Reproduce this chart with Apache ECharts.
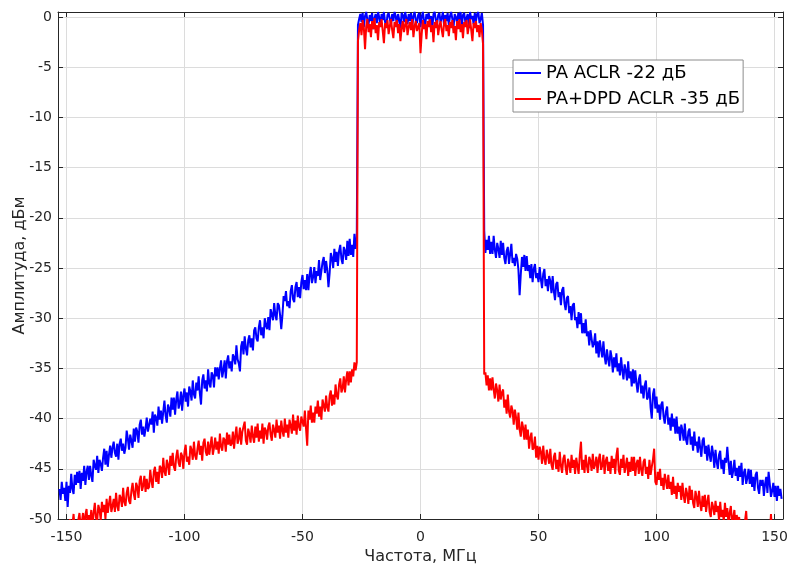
<!DOCTYPE html>
<html>
<head>
<meta charset="utf-8">
<script src="https://cdn.jsdelivr.net/npm/echarts@6/dist/echarts.min.js"></script>
<style>
html,body{margin:0;padding:0;background:#fff;overflow:hidden;}
#chart{width:789px;height:567px;}
</style>
</head>
<body>
<div id="chart"></div>
<script>
// Frequency grid (MHz): -153 ... 153, 0.5 MHz step
var freqStart = -153;
var freqStep = 0.5;

// PA (blue): left adjacent band (-153..-27), in-band (-26.5..26.5), right adjacent band (27..153)
var blueLeft = [
  -47.0, -48.1, -46.3, -47.5, -46.9, -48.2,
  -46.3, -48.8, -46.7, -47.4, -45.5, -47.0, -47.5, -45.6, -46.6, -45.3,
  -46.4, -45.2, -47.0, -45.4, -46.2, -44.7, -46.6, -45.3, -44.7, -46.1,
  -44.7, -45.7, -46.3, -44.1, -44.7, -45.1, -43.7, -45.4, -44.1, -44.5,
  -45.2, -43.9, -43.0, -44.6, -43.2, -44.8, -43.6, -42.7, -43.9, -42.9,
  -42.3, -43.4, -43.8, -42.5, -44.1, -42.5, -42.0, -43.2, -42.5, -43.5,
  -42.9, -41.2, -42.0, -43.1, -41.6, -42.2, -42.9, -41.0, -42.3, -40.9,
  -41.3, -42.4, -40.6, -40.1, -41.6, -40.8, -41.8, -41.0, -39.9, -41.3,
  -41.3, -40.0, -40.6, -39.3, -41.4, -39.6, -39.9, -40.7, -38.8, -40.1,
  -39.2, -40.5, -39.3, -38.2, -39.7, -40.4, -38.6, -39.0, -39.8, -37.9,
  -39.1, -37.9, -39.6, -38.1, -37.3, -39.0, -38.5, -37.3, -39.2, -37.7,
  -37.0, -38.3, -37.4, -38.8, -36.8, -37.3, -38.2, -36.2, -37.6, -38.0,
  -36.4, -37.2, -35.8, -37.5, -38.6, -36.2, -35.6, -37.0, -36.2, -37.3,
  -35.1, -36.5, -36.9, -35.4, -35.7, -36.9, -34.9, -35.8, -34.9, -36.1,
  -35.0, -34.2, -35.9, -35.2, -34.2, -36.0, -34.3, -33.7, -35.0, -34.3,
  -35.3, -33.6, -33.9, -34.6, -32.7, -34.1, -34.5, -35.3, -32.8, -32.3,
  -33.6, -31.8, -33.0, -33.7, -32.2, -31.7, -32.9, -32.0, -33.2, -31.2,
  -30.9, -32.0, -32.3, -30.9, -30.2, -31.7, -30.9, -32.0, -30.0, -30.7,
  -31.1, -29.9, -31.2, -29.1, -29.6, -30.2, -28.5, -29.7, -30.2, -28.5,
  -28.7, -29.7, -31.1, -29.7, -27.8, -28.3, -27.3, -28.8, -28.3, -29.0,
  -27.3, -26.7, -28.1, -28.4, -26.9, -26.4, -27.9, -26.9, -28.0, -26.4,
  -25.7, -27.1, -26.2, -27.2, -25.6, -27.2, -25.7, -24.9, -26.5, -25.9,
  -24.9, -26.5, -25.3, -25.8, -24.2, -26.2, -25.3, -24.4, -23.9, -25.5,
  -24.3, -25.2, -26.9, -25.5, -23.5, -24.0, -25.0, -23.1, -24.4, -23.4,
  -24.8, -23.3, -22.7, -24.1, -24.6, -22.9, -23.3, -24.2, -22.3, -23.8,
  -22.1, -23.7, -22.7, -23.9, -21.6, -23.1,
  -22.0
];
var blueBand = [
  -0.8, -0.2, 0.3, -0.5, 0.4, -1.0, 0.1, 0.5, -0.3, -0.7,
  0.2, -0.4, 0.4, -1.2, -0.1, 0.3, -0.6, 0.5, 0.0, -0.9,
  0.3, -0.3, 0.5, -0.5, -1.0, 0.2, 0.4, -0.2, -0.7, 0.3,
  -0.4, 0.5, 0.1, -0.8, 0.3, -0.3, -1.1, 0.4, 0.2, -0.5,
  0.5, -0.1, -0.7, 0.3, -0.4, 0.4, -0.9, 0.1, 0.5, -0.3,
  -0.6, 0.2, 0.4, -1.0, 0.0, 0.5, -0.4, -0.8, 0.3, -0.2,
  0.4, -0.6, 0.1, -1.2, 0.3, 0.5, -0.3, -0.7, 0.2, 0.4,
  -0.5, -0.1, 0.5, -0.9, 0.2, -0.4, 0.4, -0.8, 0.1, 0.5,
  -0.2, -1.0, 0.3, 0.0, -0.6, 0.4, -0.3, 0.5, -0.9, 0.2,
  0.4, -0.5, -0.1, 0.3, -1.1, 0.5, -0.2, 0.1, -0.7, 0.4,
  -0.4, 0.3, 0.5, -0.6, -0.2, 0.4, -0.8
];
var blueRight = [
  -21.3, -23.5, -22.2, -23.2, -21.8, -23.6,
  -22.4, -23.6, -21.8, -23.2, -24.0, -22.5, -23.1, -24.0, -22.3, -23.7,
  -22.5, -24.0, -24.6, -23.3, -22.9, -24.6, -23.6, -22.6, -24.5, -24.0,
  -24.8, -23.6, -24.1, -25.2, -27.7, -25.6, -23.9, -24.9, -23.7, -25.3,
  -23.8, -25.3, -24.7, -26.0, -24.6, -26.4, -25.1, -24.6, -26.0, -25.5,
  -26.4, -24.9, -26.1, -27.0, -25.6, -25.1, -26.8, -26.1, -27.3, -25.8,
  -26.3, -27.5, -25.8, -27.3, -28.2, -26.6, -26.4, -27.9, -27.4, -28.7,
  -27.2, -26.9, -28.5, -29.2, -28.0, -27.8, -29.5, -28.8, -30.2, -28.7,
  -28.5, -30.2, -29.9, -31.0, -29.4, -30.6, -29.5, -31.5, -30.5, -31.5,
  -30.1, -31.8, -31.3, -32.7, -31.2, -31.1, -32.9, -32.5, -31.5, -33.5,
  -32.3, -33.9, -32.2, -33.1, -33.9, -32.3, -33.8, -34.6, -33.1, -34.1,
  -34.8, -33.2, -33.9, -35.4, -33.9, -34.9, -33.5, -35.3, -34.5, -35.7,
  -33.9, -35.2, -36.1, -34.6, -35.2, -36.2, -34.3, -36.0, -35.3, -36.8,
  -35.1, -36.5, -35.2, -36.5, -37.4, -36.1, -35.6, -37.5, -36.7, -38.0,
  -36.7, -36.2, -38.1, -37.8, -36.9, -38.9, -40.0, -37.6, -37.0, -39.0,
  -37.8, -39.4, -38.6, -40.1, -38.6, -38.3, -39.8, -40.5, -39.3, -38.8,
  -40.6, -39.9, -41.2, -39.5, -40.8, -40.0, -41.5, -39.8, -41.5, -40.8,
  -42.2, -40.6, -41.2, -42.2, -40.5, -42.1, -42.6, -41.3, -41.0, -42.6,
  -41.8, -43.2, -41.3, -42.7, -42.3, -43.4, -41.8, -42.9, -43.8, -42.2,
  -41.9, -43.5, -42.7, -44.2, -42.6, -43.6, -44.3, -42.7, -43.5, -44.9,
  -43.1, -44.3, -45.0, -43.6, -43.2, -45.0, -44.1, -45.5, -43.9, -44.4,
  -42.8, -44.3, -45.6, -44.2, -45.9, -45.2, -44.1, -45.7, -44.9, -46.2,
  -44.7, -45.8, -44.4, -46.6, -45.4, -45.0, -46.5, -45.9, -45.0, -46.5,
  -45.1, -46.8, -45.8, -47.2, -45.6, -45.3, -46.9, -47.5, -46.1, -46.7,
  -46.1, -47.7, -46.5, -45.8, -47.4, -45.3, -46.5, -47.8, -47.2, -46.4,
  -47.8, -46.7, -48.2, -46.7, -47.7, -47.0,
  -48.0
];

// PA+DPD (red)
var redLeft = [
  -51.2, -52.1, -50.3, -51.7, -50.7, -52.1,
  -50.4, -51.1, -51.8, -50.0, -51.2, -50.6, -49.5, -51.1, -50.1, -51.4,
  -50.1, -49.4, -50.8, -50.3, -49.4, -51.1, -49.6, -49.0, -50.7, -49.6,
  -50.3, -49.1, -50.7, -49.4, -48.4, -49.9, -50.2, -48.6, -49.1, -50.1,
  -48.3, -49.3, -48.6, -50.0, -48.0, -49.4, -48.5, -47.7, -49.3, -48.7,
  -48.0, -49.3, -47.4, -48.7, -49.2, -47.6, -47.9, -48.8, -46.9, -48.3,
  -48.7, -47.4, -46.8, -48.2, -48.5, -47.2, -46.4, -47.5, -48.1, -46.4,
  -46.8, -47.9, -46.2, -45.7, -47.2, -46.7, -45.7, -47.3, -46.0, -47.0,
  -46.8, -45.1, -46.2, -46.9, -45.3, -44.8, -46.3, -45.3, -46.5, -44.7,
  -44.9, -45.9, -43.9, -45.3, -45.7, -44.1, -44.6, -45.6, -43.7, -44.7,
  -43.4, -44.8, -45.2, -43.8, -43.1, -44.4, -44.8, -43.4, -43.7, -45.0,
  -43.3, -42.6, -44.3, -43.8, -44.6, -42.7, -43.1, -44.1, -42.3, -43.7,
  -44.1, -43.0, -42.2, -43.6, -42.7, -44.2, -42.4, -42.0, -43.3, -43.7,
  -42.3, -43.6, -42.7, -41.8, -43.6, -42.9, -41.9, -43.1, -42.3, -43.5,
  -41.5, -42.8, -43.2, -41.9, -42.1, -43.3, -41.4, -42.6, -41.6, -42.7,
  -42.5, -41.3, -43.0, -41.7, -40.8, -42.5, -42.0, -40.9, -42.6, -41.3,
  -41.4, -40.3, -42.2, -42.6, -41.0, -41.5, -42.4, -40.7, -41.8, -42.4,
  -40.8, -41.9, -40.5, -42.3, -41.2, -42.0, -40.5, -42.5, -40.9, -41.2,
  -42.1, -40.8, -40.4, -41.6, -42.2, -40.6, -41.1, -41.9, -40.1, -41.4,
  -40.7, -42.0, -40.2, -41.2, -41.8, -40.0, -41.4, -40.6, -41.9, -40.1,
  -40.7, -41.5, -39.6, -41.2, -40.2, -41.6, -39.7, -40.8, -41.2, -39.8,
  -39.9, -40.8, -39.2, -41.0, -42.7, -39.2, -40.1, -38.7, -40.4, -39.4,
  -40.4, -38.8, -39.5, -38.2, -39.8, -38.8, -40.1, -38.1, -38.7, -39.3,
  -37.7, -38.9, -39.3, -37.7, -37.2, -38.7, -37.6, -38.6, -36.6, -37.7,
  -38.1, -36.6, -36.0, -37.4, -37.0, -35.8, -37.4, -36.1, -35.3, -36.7,
  -35.3, -36.4, -35.1, -35.8, -34.4, -35.2,
  -34.4
];
var redBand = [
  -2.4, -1.3, -0.6, -1.8, -0.3, -1.1, -3.2, -0.9, -0.2, -1.5,
  -0.7, -2.0, -0.4, -1.2, -0.1, -1.6, -0.8, -2.3, -0.5, -1.0,
  -0.2, -1.4, -2.6, -0.6, -1.1, -0.3, -1.7, -0.9, -0.2, -1.3,
  -2.1, -0.5, -1.0, -0.3, -1.6, -0.7, -2.4, -1.1, -0.4, -1.5,
  -0.8, -0.2, -1.8, -1.0, -0.5, -1.3, -0.2, -2.0, -0.9, -0.4,
  -1.4, -1.0, -0.6, -3.6, -1.7, -0.3, -1.2, -0.7, -2.2, -0.4,
  -1.0, -0.2, -1.5, -0.8, -2.5, -0.5, -1.1, -0.3, -1.8, -0.9,
  -0.4, -1.3, -2.0, -0.6, -0.2, -1.4, -0.8, -1.9, -0.5, -1.1,
  -0.3, -1.6, -0.9, -2.3, -0.4, -1.2, -0.2, -1.5, -0.7, -2.1,
  -0.5, -1.0, -0.3, -1.7, -0.9, -0.2, -1.3, -2.4, -0.6, -1.1,
  -0.4, -1.5, -0.8, -2.0, -0.6, -1.3, -2.7
];
var redRight = [
  -35.6, -35.4, -36.7, -35.7, -37.2, -36.0,
  -37.2, -35.9, -37.1, -38.0, -36.5, -37.2, -38.3, -36.6, -38.1, -37.4,
  -37.1, -38.9, -38.1, -39.5, -37.6, -39.3, -39.9, -38.7, -39.2, -40.6,
  -39.1, -39.9, -41.1, -39.4, -41.1, -41.8, -40.3, -40.9, -42.1, -40.6,
  -42.1, -41.1, -43.0, -41.9, -41.4, -43.1, -42.9, -41.8, -43.9, -42.7,
  -44.1, -42.8, -43.3, -44.5, -42.7, -44.0, -44.6, -43.1, -43.7, -44.5,
  -43.0, -44.6, -45.1, -43.8, -43.4, -45.0, -44.1, -45.3, -43.3, -44.7,
  -45.4, -44.0, -43.6, -44.9, -45.6, -44.0, -44.5, -45.4, -43.6, -44.9,
  -44.1, -45.5, -43.9, -44.7, -45.5, -43.6, -42.3, -45.1, -44.1, -45.4,
  -43.6, -44.7, -45.4, -43.8, -44.2, -45.2, -43.5, -45.0, -44.6, -43.8,
  -45.4, -44.1, -43.5, -45.1, -44.7, -43.6, -45.5, -44.2, -43.8, -45.2,
  -44.3, -45.5, -43.7, -44.9, -44.0, -45.5, -43.7, -42.9, -45.2, -45.6,
  -44.0, -44.9, -43.6, -45.4, -44.7, -43.9, -45.7, -44.3, -45.3, -43.8,
  -45.2, -43.8, -45.7, -44.5, -44.1, -45.5, -43.8, -45.1, -45.7, -44.3,
  -44.0, -45.5, -44.8, -46.0, -44.1, -45.6, -44.8, -44.1, -43.0, -46.3,
  -46.6, -45.3, -46.1, -45.0, -46.7, -45.9, -47.1, -45.5, -46.2, -47.0,
  -45.6, -47.0, -46.3, -47.6, -45.8, -47.5, -46.7, -48.0, -46.4, -47.3,
  -46.7, -48.1, -46.4, -47.7, -48.4, -46.9, -47.5, -48.5, -46.7, -48.1,
  -47.1, -48.4, -48.9, -47.2, -47.8, -48.8, -47.2, -48.5, -49.2, -47.7,
  -48.8, -47.6, -49.3, -48.3, -47.6, -49.3, -49.8, -48.3, -48.8, -49.6,
  -48.2, -49.3, -48.7, -50.2, -48.3, -49.8, -49.1, -50.2, -48.4, -49.8,
  -48.9, -50.5, -49.4, -48.7, -50.4, -49.9, -49.1, -50.9, -49.6, -50.5,
  -49.8, -50.8, -50.1, -51.1, -50.6, -50.2, -49.2, -51.2, -50.7, -51.0,
  -50.9, -50.4, -51.4, -50.6, -51.2, -50.9, -51.6, -50.7, -51.4, -50.6,
  -51.2, -50.7, -51.6, -51.1, -51.6, -50.7, -51.5, -49.5, -51.4, -52.0,
  -51.0, -51.8, -51.2, -51.9, -51.1, -51.9,
  -51.5
];

var seriesNames = ['PA ACLR -22 дБ', 'PA+DPD ACLR -35 дБ'];
var xTicks = [-150, -100, -50, 0, 50, 100, 150];
var yTicks = [-50, -45, -40, -35, -30, -25, -20, -15, -10, -5, 0];
var xTitle = 'Частота, МГц';
var yTitle = 'Амплитуда, дБм';

var blueValues = blueLeft.concat(blueBand, blueRight);
var redValues = redLeft.concat(redBand, redRight);
function pairs(vals) {
  var out = [];
  for (var i = 0; i < vals.length; i++) out.push([freqStart + i * freqStep, vals[i]]);
  return out;
}

var FONT = '"DejaVu Sans", "Liberation Sans", Arial, sans-serif';
var AX = '#262626';
var GRID = '#dcdcdc';

var chart = echarts.init(document.getElementById('chart'), null, {renderer: 'canvas'});
chart.setOption({
  animation: false,
  backgroundColor: '#ffffff',
  grid: {left: 58, top: 12, right: 6, bottom: 48, containLabel: false, outerBoundsMode: 'none'},
  legend: {
    data: seriesNames,
    orient: 'vertical',
    left: 513, top: 60,
    backgroundColor: '#ffffff',
    borderColor: '#8c8c8c', borderWidth: 1, borderRadius: 0,
    padding: [2, 3, 2, 2],
    itemGap: 4,
    itemWidth: 26, itemHeight: 2,
    itemTextGap: 2,
    icon: 'rect',
    textStyle: {fontFamily: FONT, fontSize: 18, color: '#000', lineHeight: 22}
  },
  xAxis: [{
    type: 'value', min: -153.6, max: 153.6, position: 'bottom',
    name: xTitle, nameLocation: 'middle', nameGap: 30, nameMoveOverlap: false,
    nameTextStyle: {fontFamily: FONT, fontSize: 16, color: AX},
    axisLine: {show: true, onZero: false, lineStyle: {color: AX, width: 1}},
    axisTick: {show: true, inside: true, length: 5, customValues: xTicks, lineStyle: {color: AX}},
    axisLabel: {customValues: xTicks, fontFamily: FONT, fontSize: 14, color: AX, margin: 11},
    splitLine: {show: true, lineStyle: {color: GRID, width: 1}}
  }, {
    type: 'value', min: -153.6, max: 153.6, position: 'top',
    axisLine: {show: true, onZero: false, lineStyle: {color: AX, width: 1}},
    axisTick: {show: true, inside: true, length: 5, customValues: xTicks, lineStyle: {color: AX}},
    axisLabel: {show: false},
    splitLine: {show: false}
  }],
  yAxis: [{
    type: 'value', min: -50, max: 0.5, position: 'left',
    name: yTitle, nameLocation: 'middle', nameGap: 30, nameRotate: 90, nameMoveOverlap: false,
    nameTextStyle: {fontFamily: FONT, fontSize: 16, color: AX},
    axisLine: {show: true, onZero: false, lineStyle: {color: AX, width: 1}},
    axisTick: {show: true, inside: true, length: 5, customValues: yTicks, lineStyle: {color: AX}},
    axisLabel: {customValues: yTicks, fontFamily: FONT, fontSize: 14, color: AX, margin: 6},
    splitLine: {show: true, lineStyle: {color: GRID, width: 1}}
  }, {
    type: 'value', min: -50, max: 0.5, position: 'right',
    axisLine: {show: true, onZero: false, lineStyle: {color: AX, width: 1}},
    axisTick: {show: true, inside: true, length: 5, customValues: yTicks, lineStyle: {color: AX}},
    axisLabel: {show: false},
    splitLine: {show: false}
  }],
  series: [{
    name: seriesNames[0], type: 'line', xAxisIndex: 0, yAxisIndex: 0,
    data: pairs(blueValues), showSymbol: false, symbol: 'none', clip: true,
    color: '#0000ff', lineStyle: {color: '#0000ff', width: 2}, z: 3
  }, {
    name: seriesNames[1], type: 'line', xAxisIndex: 0, yAxisIndex: 0,
    data: pairs(redValues), showSymbol: false, symbol: 'none', clip: true,
    color: '#ff0000', lineStyle: {color: '#ff0000', width: 2}, z: 4
  }]
});
</script>
</body>
</html>
